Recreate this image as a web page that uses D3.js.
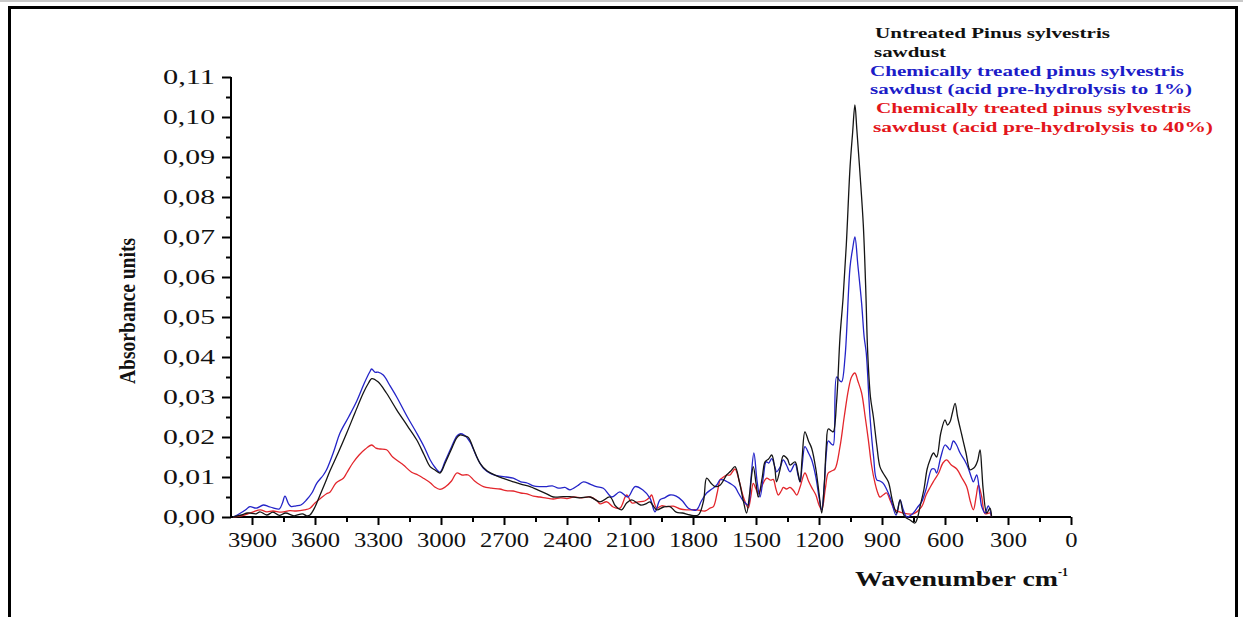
<meta charset="utf-8">
<script src="https://cdnjs.cloudflare.com/ajax/libs/d3/7.8.5/d3.min.js"></script>
<style>
  body { margin: 0; background: #fff; }
  svg text { font-family: "Liberation Serif", "DejaVu Serif", serif; }
</style>
<div id="chart"></div>
<script>
// FTIR spectra (wavenumber cm-1 / absorbance)
var untreatedWn = [3990,3950,3920,3880,3862,3830,3800,3770,3740,3700,3660,3640,3624,3600,3576,3552,3529,3490,3449,3410,3370,3345,3330,3300,3260,3211,3160,3116,3080,3052,3030,3005,2980,2950,2925,2910,2890,2870,2845,2814,2780,2735,2700,2656,2620,2576,2540,2497,2465,2418,2386,2340,2290,2243,2195,2170,2140,2116,2092,2050,2020,2005,1973,1940,1910,1880,1850,1814,1775,1750,1735,1715,1695,1670,1640,1620,1600,1580,1560,1545,1530,1513,1500,1489,1470,1457,1440,1425,1410,1402,1385,1370,1350,1338,1314,1300,1290,1280,1267,1250,1235,1215,1200,1187,1175,1165,1156,1140,1132,1116,1100,1085,1070,1052,1040,1029,1020,1005,989,978,968,955,941,925,910,895,870,850,830,814,800,790,765,743,730,719,700,685,671,655,640,620,600,588,576,565,552,540,520,500,481,470,457,445,433,425,418,401,386,378];
var untreatedAbs = [0,0.0005,0.001,0.0008,0.0013,0.0005,0.0012,0.0004,0.001,0.0003,0.0008,0.0003,0.0005,0.0025,0.0055,0.0085,0.0115,0.016,0.021,0.026,0.031,0.0335,0.0346,0.0338,0.031,0.0268,0.0228,0.0193,0.0155,0.0126,0.0118,0.011,0.0135,0.017,0.0198,0.0205,0.0203,0.0199,0.017,0.0134,0.0115,0.0103,0.0096,0.0088,0.0082,0.0076,0.0068,0.0058,0.005,0.0051,0.0051,0.0048,0.005,0.0038,0.005,0.0028,0.0018,0.0035,0.0043,0.003,0.0034,0.0038,0.0018,0.0025,0.0026,0.0012,0.001,0.0005,0.0005,0.004,0.0097,0.0085,0.0076,0.008,0.0105,0.0115,0.0126,0.009,0.004,0.001,0.006,0.0126,0.0085,0.005,0.01,0.0138,0.0145,0.0155,0.012,0.0088,0.012,0.0153,0.0145,0.013,0.0138,0.011,0.0088,0.015,0.0213,0.019,0.0172,0.012,0.006,0.001,0.008,0.018,0.022,0.0215,0.0213,0.029,0.045,0.055,0.068,0.0876,0.096,0.103,0.097,0.086,0.073,0.058,0.041,0.03,0.025,0.018,0.0126,0.011,0.0088,0.004,0.001,0.0043,0.001,0,-0.0008,-0.0015,0,0.0026,0.007,0.012,0.0143,0.016,0.015,0.021,0.0243,0.023,0.0238,0.026,0.0284,0.025,0.0205,0.016,0.0118,0.012,0.0126,0.014,0.0168,0.012,0.0068,0.001,0.0022,0];

var acid1Wn = [3990,3960,3930,3910,3880,3846,3820,3800,3770,3755,3743,3725,3713,3690,3667,3640,3615,3592,3560,3545,3510,3481,3440,3401,3365,3340,3330,3315,3300,3275,3245,3211,3160,3116,3080,3052,3030,3005,2980,2950,2925,2910,2890,2862,2830,2798,2760,2720,2690,2656,2620,2590,2560,2529,2497,2470,2440,2410,2386,2350,2322,2290,2260,2227,2187,2148,2110,2076,2040,2005,1981,1957,1935,1910,1880,1850,1822,1783,1760,1735,1710,1687,1671,1656,1624,1600,1584,1560,1537,1525,1510,1495,1481,1465,1452,1440,1425,1410,1402,1385,1370,1355,1338,1314,1300,1290,1280,1267,1250,1235,1215,1200,1187,1175,1165,1156,1140,1132,1116,1100,1092,1076,1052,1040,1029,1015,997,985,975,957,940,925,910,894,862,833,814,800,782,751,730,711,690,663,650,640,620,600,588,576,560,545,528,505,489,475,465,449,435,425,409,394,378];
var acid1Abs = [0,0.0008,0.0018,0.0026,0.0022,0.003,0.0026,0.0023,0.002,0.0035,0.0052,0.0032,0.0026,0.0028,0.003,0.0043,0.006,0.0084,0.0105,0.0118,0.0165,0.021,0.025,0.029,0.0335,0.0362,0.037,0.0362,0.0362,0.0355,0.033,0.03,0.025,0.021,0.0175,0.0143,0.0125,0.0112,0.014,0.0175,0.0202,0.0208,0.0205,0.0188,0.015,0.0122,0.0108,0.0102,0.01,0.0097,0.0088,0.0085,0.0078,0.0076,0.0076,0.0078,0.0072,0.0074,0.0068,0.0078,0.0088,0.0082,0.0076,0.0072,0.005,0.0063,0.005,0.0076,0.0068,0.0047,0.0013,0.0043,0.0048,0.0055,0.0052,0.004,0.0022,0.0018,0.004,0.006,0.007,0.008,0.0093,0.0093,0.0084,0.0075,0.006,0.004,0.003,0.009,0.016,0.009,0.005,0.01,0.0138,0.0135,0.0146,0.0125,0.0113,0.0125,0.0143,0.013,0.0113,0.0133,0.0105,0.0088,0.013,0.0176,0.016,0.0143,0.01,0.005,0.0018,0.008,0.016,0.019,0.0182,0.018,0.035,0.034,0.0338,0.04,0.0626,0.067,0.07,0.063,0.0534,0.045,0.041,0.025,0.015,0.0093,0.009,0.0084,0.005,0.0005,0.0043,0.002,0,0.001,0.0025,0.0038,0.007,0.012,0.012,0.011,0.015,0.018,0.0175,0.0168,0.019,0.018,0.016,0.014,0.0122,0.01,0.0088,0.0105,0.006,0.0026,0.001,0.0028,0];

var acid40Wn = [3990,3950,3920,3894,3860,3830,3800,3760,3720,3690,3650,3624,3600,3570,3545,3529,3500,3465,3449,3420,3390,3360,3330,3310,3290,3259,3230,3200,3179,3140,3110,3084,3050,3030,3005,2980,2950,2925,2900,2870,2840,2798,2760,2720,2690,2656,2620,2590,2560,2529,2497,2465,2430,2400,2370,2330,2290,2260,2243,2210,2180,2148,2116,2090,2060,2030,2005,1997,1973,1950,1926,1894,1860,1830,1783,1743,1719,1703,1685,1671,1663,1640,1624,1600,1580,1560,1537,1525,1513,1500,1489,1470,1449,1430,1418,1405,1394,1380,1370,1355,1338,1320,1306,1290,1267,1250,1235,1215,1200,1187,1170,1156,1140,1124,1100,1080,1060,1045,1029,1015,997,980,965,950,933,920,910,895,878,860,838,800,751,711,690,670,656,630,610,592,570,544,520,497,480,465,452,441,425,409,386,378];
var acid40Abs = [0,0.0003,0.0008,0.0013,0.0018,0.0013,0.0015,0.0012,0.0016,0.0015,0.0018,0.0022,0.0035,0.0048,0.0058,0.0062,0.0085,0.0097,0.011,0.0135,0.0155,0.017,0.018,0.0172,0.017,0.0168,0.015,0.0138,0.013,0.0112,0.0105,0.0097,0.0085,0.0075,0.0069,0.0075,0.009,0.011,0.0105,0.0105,0.009,0.0076,0.0072,0.007,0.0066,0.0065,0.006,0.0058,0.0052,0.005,0.0047,0.0045,0.0048,0.0046,0.005,0.0048,0.005,0.0042,0.0033,0.0038,0.0025,0.0022,0.0055,0.0035,0.0038,0.004,0.005,0.0055,0.0022,0.0028,0.0026,0.0027,0.002,0.0018,0.0018,0.0015,0.0022,0.0026,0.006,0.0093,0.0097,0.0105,0.0105,0.012,0.009,0.005,0.0023,0.005,0.0084,0.007,0.0058,0.008,0.0097,0.0092,0.0094,0.007,0.0055,0.0065,0.0074,0.007,0.0074,0.0065,0.0055,0.0075,0.011,0.009,0.0074,0.0055,0.003,0.0018,0.007,0.011,0.0115,0.012,0.0176,0.025,0.0318,0.035,0.036,0.034,0.031,0.025,0.0193,0.013,0.0084,0.006,0.005,0.0055,0.006,0.004,0.0018,0.001,0.0008,0.0026,0.0055,0.0075,0.0088,0.011,0.0135,0.0143,0.013,0.012,0.0098,0.0076,0.004,0.0018,0.005,0.008,0.005,0.0008,0.001,0];

var xMajorTicks = [3900,3600,3300,3000,2700,2400,2100,1800,1500,1200,900,600,300,0];
var xMinorTicks = [3750,3450,3150,2850,2550,2250,1950,1650,1350,1050,750,450,150];
var yMajorTicks = [0,0.01,0.02,0.03,0.04,0.05,0.06,0.07,0.08,0.09,0.10,0.11];
var yMinorTicks = [0.005,0.015,0.025,0.035,0.045,0.055,0.065,0.075,0.085,0.095,0.105];

var legendLines = [
  {lines: ["Untreated Pinus sylvestris", "sawdust"], color: "#111111"},
  {lines: ["Chemically treated pinus sylvestris", "sawdust (acid pre-hydrolysis to 1%)"], color: "#1c1cc8"},
  {lines: ["Chemically treated pinus sylvestris", "sawdust (acid pre-hydrolysis to 40%)"], color: "#e3161c"}
];

var W = 1243, H = 617;
var svg = d3.select("#chart").append("svg")
  .attr("width", W)
  .attr("height", H);

// outer frame
svg.append("line").attr("x1", 0).attr("x2", W).attr("y1", 1).attr("y2", 1)
  .attr("stroke", "#c8c8c8").attr("stroke-width", 2);
svg.append("path")
  .attr("d", "M9.5,630 V7.5 H1236.5 V630")
  .attr("fill", "none").attr("stroke", "#000").attr("stroke-width", 3);

var x = d3.scaleLinear().domain([4000, 0]).range([231, 1071]);
var y = d3.scaleLinear().domain([0, 0.11]).range([517, 77]);

var fmtY = function(d) { return d3.format(".2f")(d).replace(".", ","); };

// labels in the figure are a bit wider than the font, stretch them
function stretch(sel, perChar) {
  sel.attr("textLength", function() { return this.textContent.length * perChar; })
    .attr("lengthAdjust", "spacingAndGlyphs");
}

// x axis
var gx = svg.append("g").attr("transform", "translate(0,517)");
gx.call(d3.axisBottom(x).tickValues(xMajorTicks).tickSize(8).tickPadding(7).tickFormat(d3.format("d")))
  .call(function(g) {
    g.select(".domain").attr("stroke-width", 2).attr("d", "M231,0H1071");
    g.selectAll(".tick line").attr("stroke-width", 2);
    g.selectAll("text").attr("font-size", 21).attr("fill", "#111")
      .style("font-family", "Liberation Serif")
      .call(stretch, 12.3);
  });
svg.append("g").attr("transform", "translate(0,517)")
  .call(d3.axisBottom(x).tickValues(xMinorTicks).tickSize(5).tickFormat(""))
  .call(function(g) {
    g.select(".domain").remove();
    g.selectAll(".tick line").attr("stroke-width", 2);
  });

// y axis
var gy = svg.append("g").attr("transform", "translate(231,0)");
gy.call(d3.axisLeft(y).tickValues(yMajorTicks).tickSize(9).tickPadding(7).tickFormat(fmtY))
  .call(function(g) {
    g.select(".domain").attr("stroke-width", 2).attr("d", "M0,517V77");
    g.selectAll(".tick line").attr("stroke-width", 2);
    g.selectAll("text").attr("font-size", 21).attr("fill", "#111")
      .style("font-family", "Liberation Serif")
      .call(stretch, 13);
  });
svg.append("g").attr("transform", "translate(231,0)")
  .call(d3.axisLeft(y).tickValues(yMinorTicks).tickSize(5).tickFormat(""))
  .call(function(g) {
    g.select(".domain").remove();
    g.selectAll(".tick line").attr("stroke-width", 2);
  });

// spectra
var line = d3.line()
  .x(function(d) { return x(d[0]); })
  .y(function(d) { return y(d[1]); })
  .curve(d3.curveCatmullRom.alpha(0.5));

var series = [
  {wn: acid40Wn, ab: acid40Abs, color: "#e3262c"},
  {wn: acid1Wn, ab: acid1Abs, color: "#2424c8"},
  {wn: untreatedWn, ab: untreatedAbs, color: "#151515"}
];
series.forEach(function(s) {
  svg.append("path")
    .datum(d3.zip(s.wn, s.ab))
    .attr("fill", "none")
    .attr("stroke", s.color)
    .attr("stroke-width", 1.3)
    .attr("stroke-linejoin", "round")
    .attr("d", line);
});

// axis titles
svg.append("text")
  .attr("transform", "translate(135,311) rotate(-90)")
  .attr("text-anchor", "middle")
  .attr("font-size", 24)
  .attr("font-weight", "bold")
  .attr("textLength", 146)
  .attr("lengthAdjust", "spacingAndGlyphs")
  .attr("fill", "#111")
  .text("Absorbance units");

var xt = svg.append("text")
  .attr("x", 855).attr("y", 586)
  .attr("font-size", 22)
  .attr("font-weight", "bold")
  .attr("fill", "#111");
xt.append("tspan").attr("textLength", 203).attr("lengthAdjust", "spacingAndGlyphs").text("Wavenumber cm");
xt.append("tspan").attr("dy", -10).attr("font-size", 12).text("-1");

// legend
var legendX = [[875, 874], [870, 870], [876, 873]];
var legendW = [[235, 72], [314, 322], [315, 340]];
var legendY = 38;
legendLines.forEach(function(item, i) {
  item.lines.forEach(function(t, j) {
    svg.append("text")
      .attr("x", legendX[i][j])
      .attr("y", legendY + (i * 2 + j) * 18.8)
      .attr("font-size", 15.5)
      .attr("font-weight", "bold")
      .attr("fill", item.color)
      .attr("textLength", legendW[i][j])
      .attr("lengthAdjust", "spacingAndGlyphs")
      .text(t);
  });
});
</script>
